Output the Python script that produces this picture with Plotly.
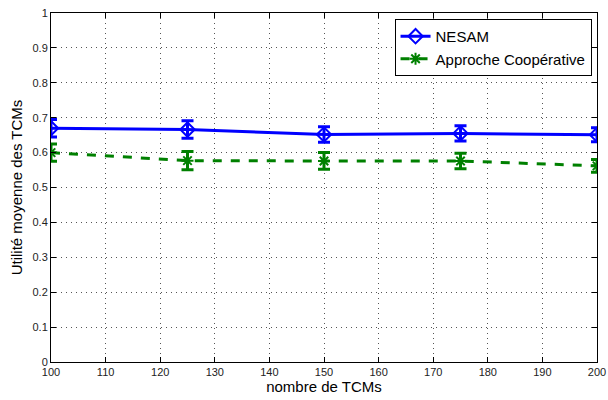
import plotly.graph_objects as go

x_vals = [100, 125, 150, 175, 200]
nesam = [0.670, 0.666, 0.652, 0.655, 0.651]
nesam_err = [0.025, 0.025, 0.022, 0.022, 0.020]
coop = [0.600, 0.577, 0.576, 0.576, 0.562]
coop_err = [0.025, 0.026, 0.024, 0.022, 0.018]

FONT = "Liberation Sans, Arial"

fig = go.Figure()
fig.add_trace(go.Scatter(
    x=x_vals, y=nesam, name="NESAM", mode="lines+markers",
    line=dict(color="#0000ff", width=3),
    marker=dict(symbol="diamond-open", size=11, color="#0000ff", line=dict(width=2)),
    error_y=dict(type="data", array=nesam_err, color="#0000ff", thickness=3, width=6),
))
fig.add_trace(go.Scatter(
    x=x_vals, y=coop, name="Approche Coopérative", mode="lines+markers",
    line=dict(color="#008000", width=3, dash="dash"),
    marker=dict(symbol="asterisk-open", size=10, color="#008000", line=dict(width=2, color="#008000")),
    error_y=dict(type="data", array=coop_err, color="#008000", thickness=3, width=6),
))

axis_common = dict(
    showline=True, linecolor="black", linewidth=1, mirror="ticks",
    ticks="inside", ticklen=5, tickcolor="black",
    showgrid=True, gridcolor="#555", griddash="1px,4px", gridwidth=1,
    zeroline=False, automargin=False,
    tickfont=dict(family=FONT, size=11, color="#222"),
)
fig.update_xaxes(range=[100, 200], tickvals=list(range(100, 201, 10)),
                 title=dict(text="nombre de TCMs", font=dict(family=FONT, size=15, color="black"), standoff=2),
                 **axis_common)
fig.update_yaxes(range=[0, 1], tickvals=[i / 10 for i in range(11)],
                 ticktext=["0", "0.1", "0.2", "0.3", "0.4", "0.5", "0.6", "0.7", "0.8", "0.9", "1"],
                 title=dict(text="Utilité moyenne des TCMs", font=dict(family=FONT, size=15, color="black"), standoff=6),
                 **axis_common)

fig.update_layout(
    width=608, height=400,
    margin=dict(l=51, r=11, t=13, b=38),
    plot_bgcolor="white", paper_bgcolor="white",
    legend=dict(x=0.99, y=0.983, xanchor="right", yanchor="top",
                bgcolor="white", bordercolor="black", borderwidth=1,
                font=dict(family=FONT, size=15, color="black"),
                tracegroupgap=2, itemwidth=30),
    showlegend=True,
)

fig.write_html("out.html", config={"displayModeBar": False},
               post_script="document.body.style.margin='0';document.body.style.overflow='hidden';")
